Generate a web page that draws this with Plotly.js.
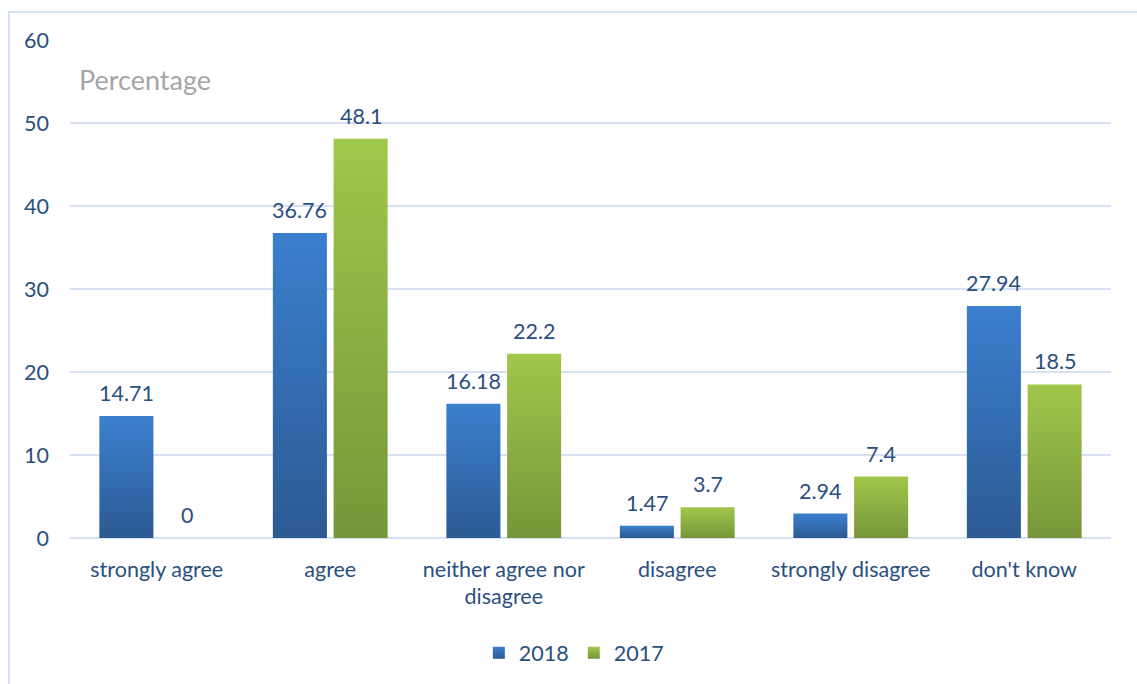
<!DOCTYPE html>
<html>
<head>
<meta charset="utf-8">
<script src="https://cdn.plot.ly/plotly-3.0.1.min.js"></script>
<style>
html,body{margin:0;padding:0;background:#fff;}
#wrap{position:relative;width:1137px;height:684px;}
#chart{position:absolute;left:0;top:0;width:1137px;height:684px;}
#frame{position:absolute;left:8px;top:11px;width:1140px;height:690px;border:2px solid #d6e2f3;box-sizing:border-box;pointer-events:none;}
</style>
</head>
<body>
<div id="wrap">
<div id="chart"></div>
<div id="frame"></div>
</div>
<script>
const categories = ["strongly agree", "agree", "neither agree nor<br>disagree", "disagree", "strongly disagree", "don't know"];
const values2018 = [14.71, 36.76, 16.18, 1.47, 2.94, 27.94];
const values2017 = [0, 48.1, 22.2, 3.7, 7.4, 18.5];
const labels2018 = ["14.71", "36.76", "16.18", "1.47", "2.94", "27.94"];
const labels2017 = ["0", "48.1", "22.2", "3.7", "7.4", "18.5"];
const yTicks = [0, 10, 20, 30, 40, 50, 60];

const FONT = "Lato, 'Open Sans', sans-serif";
const TXT = "#2a4f7f";
const FS = 21.5;

const traces = [
  {type: "bar", name: "2018", x: categories, y: values2018,
   marker: {color: "#3469b0"}, hoverinfo: "none"},
  {type: "bar", name: "2017", x: categories, y: values2017,
   marker: {color: "#8cb143"}, hoverinfo: "none"}
];

// data labels placed through the axes, shifted to each bar's slot
const slotShift = 30.4;
const annotations = [];
categories.forEach(function(c, i){
  annotations.push({x: c, y: values2018[i], text: labels2018[i], xref: "x", yref: "y",
    xshift: -slotShift, yshift: 8, yanchor: "bottom", xanchor: "center", showarrow: false,
    font: {family: FONT, size: FS, color: TXT}});
  annotations.push({x: c, y: values2017[i], text: labels2017[i], xref: "x", yref: "y",
    xshift: slotShift, yshift: 8, yanchor: "bottom", xanchor: "center", showarrow: false,
    font: {family: FONT, size: FS, color: TXT}});
});
annotations.push({text: "Percentage", xref: "paper", yref: "paper", x: 0.007, y: 0.92,
  xanchor: "left", yanchor: "middle", showarrow: false,
  font: {family: FONT, size: 27, color: "#a6a6a6"}});

const layout = {
  width: 1137, height: 684,
  margin: {l: 70, r: 26, t: 40, b: 145},
  paper_bgcolor: "rgba(0,0,0,0)", plot_bgcolor: "rgba(0,0,0,0)",
  barmode: "group", bargap: 0.30, bargroupgap: 0.11,
  font: {family: FONT, color: TXT, size: FS},
  showlegend: true,
  legend: {orientation: "h", x: 0.484, xanchor: "center", y: -0.228, yanchor: "middle",
           font: {family: FONT, size: FS, color: TXT}, itemwidth: 30, traceorder: "normal"},
  xaxis: {type: "category", showgrid: false, zeroline: false, showline: false,
          ticks: "", tickfont: {family: FONT, size: FS, color: TXT}, ticklabelstandoff: 16},
  yaxis: {range: [0, 60], tickvals: yTicks, ticktext: yTicks.map(String),
          showgrid: true, gridcolor: "#d6e2f3", gridwidth: 2,
          zeroline: true, zerolinecolor: "#d6e2f3", zerolinewidth: 2,
          showline: false, ticks: "", ticklabelstandoff: 20,
          tickfont: {family: FONT, size: FS, color: TXT}},
  annotations: annotations
};

Plotly.newPlot("chart", traces, layout, {displayModeBar: false, staticPlot: true}).then(function(gd){
  const svg = gd.querySelector("svg.main-svg");
  const ns = "http://www.w3.org/2000/svg";
  let defs = svg.querySelector("defs");
  if (!defs) { defs = document.createElementNS(ns, "defs"); svg.insertBefore(defs, svg.firstChild); }
  function grad(id, top, bottom) {
    const g = document.createElementNS(ns, "linearGradient");
    g.setAttribute("id", id); g.setAttribute("x1", "0"); g.setAttribute("y1", "0");
    g.setAttribute("x2", "0"); g.setAttribute("y2", "1");
    [[0, top], [1, bottom]].forEach(function(s){
      const st = document.createElementNS(ns, "stop");
      st.setAttribute("offset", s[0]); st.setAttribute("stop-color", s[1]);
      g.appendChild(st);
    });
    defs.appendChild(g);
  }
  grad("gBlue", "#3b7fce", "#2c5a93");
  grad("gGreen", "#a1c74b", "#76963a");
  const groups = gd.querySelectorAll(".barlayer .trace");
  groups.forEach(function(tr, i){
    tr.querySelectorAll(".point path").forEach(function(p){
      p.style.fill = i === 0 ? "url(#gBlue)" : "url(#gGreen)";
    });
  });
  gd.querySelectorAll(".legend .traces").forEach(function(tr, i){
    tr.querySelectorAll(".legendpoints path").forEach(function(p){
      p.style.fill = i === 0 ? "url(#gBlue)" : "url(#gGreen)";
    });
  });
});
</script>
</body>
</html>
